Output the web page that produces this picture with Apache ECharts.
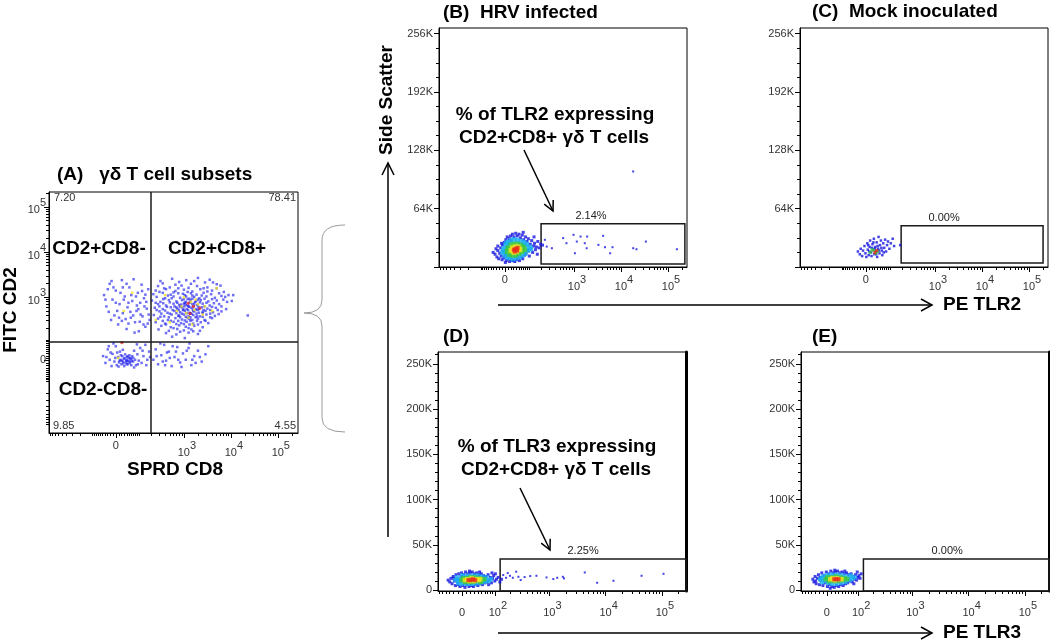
<!DOCTYPE html>
<html>
<head>
<meta charset="utf-8">
<script src="https://cdn.jsdelivr.net/npm/echarts@6.0.0/dist/echarts.min.js"></script>
<style>
  html, body { margin: 0; padding: 0; background: #fff; }
  #chart { width: 1050px; height: 643px; }
</style>
</head>
<body>
<div id="chart"></div>
<script>
// x values of the fluorescence channels are in display (logicle) units:
// 10^3 sits at 3, 10^4 at 4, 10^5 at 5. Side scatter is in K.

// (A) gamma delta T cell subsets: [SPRD CD8, FITC CD2]
var aBlue = [
  [2.75,3.41],[3.05,3.38],[3.30,3.43],[3.55,3.39],
  [2.55,3.31],[2.90,3.34],[3.15,3.30],[3.45,3.33],[3.70,3.29],
  [2.45,3.25],[2.70,3.22],[2.95,3.26],[3.10,3.21],[3.28,3.25],[3.50,3.22],[3.78,3.26],
  [2.40,3.15],[2.62,3.18],[2.82,3.14],[3.00,3.17],[3.18,3.13],[3.35,3.18],[3.60,3.15],[3.85,3.12],
  [2.35,3.07],[2.55,3.10],[2.72,3.06],[2.88,3.09],[3.02,3.05],[3.15,3.09],[3.27,3.06],[3.42,3.10],[3.58,3.07],[3.75,3.09],[3.95,3.05],
  [2.42,3.01],[2.60,2.98],[2.78,3.02],[2.92,2.99],[3.05,3.02],[3.12,2.97],[3.22,3.01],[3.33,2.98],[3.48,3.02],[3.66,2.99],[3.88,3.01],
  [2.32,2.93],[2.50,2.90],[2.68,2.94],[2.84,2.91],[2.96,2.94],[3.04,2.90],[3.14,2.93],[3.24,2.90],[3.36,2.94],[3.52,2.91],[3.70,2.93],[3.92,2.90],
  [2.45,2.85],[2.62,2.82],[2.78,2.86],[2.90,2.83],[3.00,2.86],[3.08,2.82],[3.18,2.85],[3.28,2.83],[3.40,2.86],[3.55,2.82],[3.75,2.85],
  [2.38,2.77],[2.55,2.74],[2.72,2.78],[2.86,2.75],[2.96,2.78],[3.06,2.74],[3.16,2.77],[3.26,2.74],[3.38,2.78],[3.50,2.75],[3.68,2.77],[3.90,2.74],
  [2.48,2.69],[2.65,2.66],[2.80,2.70],[2.92,2.67],[3.02,2.70],[3.12,2.66],[3.22,2.69],[3.32,2.66],[3.46,2.70],[3.62,2.67],[3.80,2.69],
  [2.36,2.61],[2.58,2.58],[2.74,2.62],[2.88,2.59],[3.00,2.62],[3.10,2.58],[3.20,2.61],[3.34,2.58],[3.48,2.62],[3.66,2.59],
  [2.45,2.53],[2.66,2.50],[2.82,2.54],[2.96,2.51],[3.08,2.54],[3.18,2.50],[3.30,2.53],[3.44,2.50],[3.60,2.54],
  [2.40,2.45],[2.60,2.42],[2.78,2.46],[2.94,2.43],[3.06,2.46],[3.20,2.42],[3.36,2.45],[3.52,2.43],
  [2.52,2.37],[2.72,2.34],[2.90,2.38],[3.04,2.35],[3.22,2.37],[3.40,2.34],
  [2.46,2.29],[2.68,2.26],[2.86,2.30],[3.00,2.27],[3.16,2.29],[3.34,2.26],
  [2.62,2.21],[2.84,2.18],[3.10,2.22],[3.30,2.19],[2.75,2.13],[3.02,2.10],
  [2.98,2.72],[3.10,2.80],[3.20,2.70],[3.02,2.88],[3.14,2.64],[3.26,2.92],[2.90,2.60],[3.32,2.74],
  [3.08,2.96],[2.84,2.78],[3.18,3.04],[3.40,2.68],[2.94,2.84],[3.28,2.58],[3.12,2.52],
  [2.50,3.36],[2.82,3.28],[3.22,3.36],[3.62,3.33],[2.58,3.20],[2.88,3.20],[3.42,3.20],[3.70,3.20],
  [2.48,3.12],[2.78,3.11],[3.08,3.12],[3.50,3.13],[3.80,3.03],[2.66,3.04],[2.98,3.08],[3.38,3.04],
  [2.56,2.96],[2.74,2.98],[3.00,2.96],[3.18,2.97],[3.30,2.95],[3.44,2.97],[3.60,2.96],[3.84,2.95],
  [2.40,2.88],[2.56,2.87],[2.70,2.89],[2.86,2.88],[3.04,2.84],[3.12,2.88],[3.22,2.86],[3.34,2.89],[3.48,2.88],[3.64,2.87],
  [2.48,2.80],[2.64,2.79],[2.80,2.80],[2.92,2.79],[3.01,2.80],[3.11,2.79],[3.21,2.80],[3.31,2.79],[3.44,2.80],[3.60,2.79],[3.80,2.80],
  [2.42,2.72],[2.60,2.71],[2.76,2.72],[2.89,2.72],[2.99,2.73],[3.09,2.72],[3.19,2.73],[3.29,2.72],[3.42,2.72],[3.56,2.72],[3.72,2.72],
  [2.52,2.64],[2.70,2.64],[2.84,2.65],[2.96,2.64],[3.06,2.65],[3.16,2.64],[3.27,2.64],[3.40,2.65],[3.56,2.64],[3.74,2.63],
  [2.50,2.57],[2.68,2.56],[2.92,2.56],[3.04,2.57],[3.14,2.56],[3.25,2.56],[3.40,2.57],[3.56,2.56],
  [2.55,2.48],[2.72,2.48],[2.88,2.48],[3.02,2.49],[3.14,2.48],[3.28,2.48],[3.46,2.48],
  [2.62,2.40],[2.84,2.41],[3.00,2.41],[3.12,2.40],[3.30,2.40],[2.78,2.32],[3.10,2.32],[2.92,2.24],[3.20,2.25],
  [4.36,2.60],[4.02,2.92],[4.05,3.05],
  // upper left
  [1.30,3.05],[1.35,2.80],[1.42,3.30],[1.48,2.95],[1.52,2.60],[1.55,3.15],[1.60,2.40],[1.63,2.85],
  [1.68,3.38],[1.70,2.65],[1.74,3.02],[1.78,2.30],[1.80,2.78],[1.84,3.22],[1.87,2.55],[1.90,2.92],
  [1.93,3.40],[1.96,2.45],[1.99,2.70],[2.02,3.10],[2.04,2.25],[2.07,2.88],[2.10,3.28],[2.12,2.58],
  [2.15,2.98],[2.18,2.35],[2.21,2.75],[2.24,3.18],[2.27,2.50],[1.45,2.50],[1.65,3.10],[1.88,3.05],
  [2.08,2.62],[1.58,2.70],[1.76,2.52],[1.95,2.22],[2.20,2.90],[1.38,3.18],[1.82,2.42],[2.00,2.82],
  [1.72,2.95],[2.14,2.40],
  [1.40,2.68],[1.50,3.22],[1.62,2.55],[1.78,3.30],[1.86,2.68],[1.98,3.02],[2.06,2.46],[2.16,2.80],
  [2.25,2.62],[1.55,2.88],[1.68,2.48],[1.92,2.60],[2.11,3.14],[2.23,2.42],[1.33,2.95],[1.82,2.88],
  [2.03,2.74],[2.18,3.06],[1.70,3.22],[1.46,3.36],
  // lower left
  [1.28,1.70],[1.33,1.55],[1.38,1.85],[1.42,1.62],[1.46,1.48],[1.48,1.75],[1.52,1.58],[1.55,1.92],
  [1.57,1.50],[1.60,1.68],[1.62,1.56],[1.64,1.80],[1.65,1.62],[1.67,1.52],[1.69,1.70],[1.70,1.58],
  [1.72,1.64],[1.73,1.48],[1.75,1.74],[1.76,1.56],[1.78,1.62],[1.79,1.68],[1.81,1.52],[1.82,1.60],
  [1.84,1.72],[1.85,1.55],[1.87,1.64],[1.88,1.50],[1.90,1.70],[1.92,1.58],[1.94,1.82],[1.96,1.62],
  [1.98,1.50],[2.01,1.74],[2.04,1.60],[2.07,1.88],[2.10,1.55],[2.14,1.70],[2.18,1.95],[2.22,1.62],
  [2.26,1.80],[1.66,1.72],[1.74,1.66],[1.80,1.58],[1.86,1.66],[1.71,1.54],[1.77,1.60],[1.83,1.66],
  [1.63,1.60],[1.89,1.60],[1.50,1.98],[1.94,1.45],[1.58,1.78],[2.00,1.96],
  [1.35,1.68],[1.44,1.78],[1.54,1.66],[1.61,1.47],[1.68,1.60],[1.80,1.70],[1.86,1.58],[1.92,1.66],
  [2.02,1.52],[2.12,1.82],[2.20,1.50],[2.28,1.68],[1.40,1.92],[1.70,1.84],[1.78,1.52],
  // lower right
  [2.35,1.62],[2.40,1.85],[2.45,1.52],[2.52,1.72],[2.58,1.95],[2.62,1.60],[2.68,1.80],[2.74,1.48],
  [2.80,1.68],[2.86,1.90],[2.92,1.56],[2.98,1.76],[3.04,1.62],[3.10,1.88],[3.16,1.50],[3.22,1.70],
  [3.30,1.82],[3.38,1.58],[3.46,1.74],[3.52,1.92],[2.50,1.98],[2.70,1.66],[2.95,1.46],[3.12,1.98],
  [3.25,1.55],[2.55,1.58],[2.83,1.80],
  [2.42,1.70],[2.64,1.78],[2.88,1.62],[3.06,1.82],[3.18,1.62],[3.34,1.68],[2.60,1.50],[2.76,1.92]
];
var aYellow = [
  [2.95,2.80],[3.05,2.65],[3.15,2.90],[3.22,2.72],[3.30,2.85],[3.10,2.55],[2.85,2.70],[3.40,2.62],
  [3.00,3.00],[3.25,2.95],[2.70,2.45],[3.45,2.80],[1.90,3.10],[1.72,2.70],[3.60,2.70],[2.40,2.50],
  [3.18,2.40],[2.60,3.05],[3.70,3.20],[1.60,1.66]
];
var aRed = [[3.09,2.87],[3.13,2.64],[3.34,2.76],[1.68,2.00],[3.20,2.80]];
var quadLines = [2.30, 2.02];
var quadPct = ['7.20', '78.41', '9.85', '4.55'];

// (B) HRV infected, TLR2: [PE TLR2, SSC (K)]
var bBlue = [
  [1.32,14],[1.36,11],[1.38,18],[1.40,9],[1.42,15],[1.44,21],[1.45,12],[1.47,8],[1.48,24],[1.50,17],
  [1.51,10],[1.52,27],[1.53,13],[1.55,30],[1.56,7],[1.57,22],[1.58,33],[1.60,9],[1.61,26],[1.62,31],
  [1.63,6],[1.65,34],[1.66,29],[1.67,8],[1.69,36],[1.70,7],[1.72,33],[1.74,6],[1.76,37],[1.78,8],
  [1.79,34],[1.81,10],[1.83,36],[1.84,7],[1.86,32],[1.88,11],[1.90,35],[1.91,9],[1.93,30],[1.95,13],
  [1.97,33],[1.98,15],[2.00,28],[2.02,18],[2.03,31],[2.05,12],[2.07,25],[2.08,20],[2.10,29],[2.12,16],
  [2.14,23],[2.16,26],[2.18,19],[2.20,22],[2.23,28],[2.26,21],[2.29,25],[1.28,16],[1.34,20],[2.33,24],
  [1.46,26],[1.54,5],[1.92,38],[2.15,33],[1.38,23],[2.22,14]
];
var bCyan = [
  [1.48,16],[1.50,20],[1.53,13],[1.55,24],[1.58,11],[1.60,27],[1.63,10],[1.66,29],[1.70,9],[1.73,30],
  [1.77,10],[1.80,29],[1.84,11],[1.87,28],[1.90,13],[1.93,27],[1.96,15],[1.99,25],[2.02,18],[2.05,22],
  [1.52,18],[1.57,26],[1.62,12],[1.95,24],[2.08,20]
];
var bGreen = [
  [1.58,17],[1.60,21],[1.63,14],[1.66,24],[1.69,13],[1.72,25],[1.76,13],[1.79,25],[1.83,15],[1.86,24],
  [1.89,17],[1.92,22],[1.95,19],[1.62,19],[1.90,20]
];
var bYellow = [[1.66,18],[1.69,21],[1.72,16],[1.75,22],[1.78,17],[1.81,22],[1.85,19],[1.70,19],[1.83,20]];
var bRed = [[1.72,19],[1.76,20],[1.79,18],[1.74,17],[1.80,21]];
var bGated = [
  [2.38,29.8],[2.42,22.4],[2.53,20.6],[2.77,31.7],[2.84,26.1],[2.99,35.3],[3.02,15.1],[3.06,27.9],
  [3.14,33.4],[3.23,26.1],[3.27,20.6],[3.28,33.4],[3.52,24.3],[3.62,34.2],[3.66,21.7],[3.77,15.1],
  [3.82,21.7],[4.26,20.6],[4.33,19.5],[4.53,27.9],[5.19,19.5],[4.26,104.8]
];

// (C) Mock inoculated, TLR2
var cBlue = [
  [1.36,17],[1.40,14],[1.42,20],[1.45,12],[1.47,18],[1.50,23],[1.52,15],[1.54,11],[1.56,26],[1.57,19],
  [1.59,13],[1.61,22],[1.62,29],[1.64,16],[1.65,12],[1.67,25],[1.68,19],[1.70,31],[1.71,14],[1.73,22],
  [1.74,17],[1.76,27],[1.77,11],[1.79,20],[1.80,33],[1.82,15],[1.83,24],[1.85,29],[1.87,18],[1.88,13],
  [1.90,26],[1.92,21],[1.94,30],[1.96,17],[1.98,24],[2.00,28],[2.03,20],[2.06,26],[2.10,31],[2.13,23],
  [1.69,27],[1.72,20],[1.78,23],[1.81,18],[1.60,17],[1.66,21],[1.58,24],[1.75,14],[1.86,21],[1.91,16],
  [2.26,24]
];
var cGreen = [[1.62,16],[1.70,18],[1.74,15],[1.66,19],[1.78,17]];
var cRed = [[1.72,16],[1.76,18]];

// (D) HRV infected, TLR3
var dBlue = [
  [1.20,11],[1.23,9],[1.25,13],[1.27,7],[1.29,15],[1.31,10],[1.33,5],[1.34,17],[1.36,12],[1.38,6],
  [1.39,18],[1.41,4],[1.43,15],[1.44,19],[1.46,5],[1.48,17],[1.50,3],[1.51,20],[1.53,6],[1.55,18],
  [1.57,4],[1.59,19],[1.61,5],[1.63,20],[1.65,4],[1.67,18],[1.69,6],[1.71,19],[1.73,5],[1.75,17],
  [1.77,7],[1.79,18],[1.81,6],[1.83,16],[1.85,8],[1.87,15],[1.89,9],[1.91,17],[1.93,11],[1.95,14],
  [1.97,8],[1.99,13],[2.01,16],[2.03,10],[2.06,12],[2.09,14],[2.12,9],[2.15,12],[1.45,12],[1.30,13],
  [1.92,6],[2.04,18],[1.58,21],[1.76,20],[1.37,9],[1.98,19]
];
var dCyan = [
  [1.33,11],[1.36,14],[1.38,8],[1.41,12],[1.43,7],[1.45,16],[1.48,8],[1.50,15],[1.53,7],[1.56,16],
  [1.60,7],[1.64,16],[1.68,7],[1.72,16],[1.76,8],[1.80,15],[1.84,9],[1.88,14],[1.92,10],[1.96,12],
  [1.40,10],[1.86,11]
];
var dGreen = [
  [1.44,11],[1.47,13],[1.50,9],[1.53,13],[1.57,9],[1.60,14],[1.64,9],[1.68,14],[1.72,10],[1.76,13],
  [1.80,11],[1.84,12],[1.48,11],[1.78,9]
];
var dYellow = [[1.50,11],[1.54,12],[1.58,10],[1.62,13],[1.66,10],[1.70,12],[1.74,11],[1.77,12]];
var dRed = [[1.56,11],[1.60,11],[1.64,12],[1.68,11]];
var dGated = [
  [2.18,16.6],[2.23,13.6],[2.26,18.8],[2.30,15.8],[2.35,13.6],[2.41,20.3],[2.45,14.7],[2.49,11.1],
  [2.56,14.4],[2.66,15.5],[2.77,15.8],[2.95,14.0],[3.07,12.2],[3.14,13.6],[3.24,14.7],[3.26,12.9],
  [3.63,19.5],[3.85,8.1],[4.14,10.3],[4.64,15.8],[5.03,18.0]
];

// (E) Mock inoculated, TLR3
var eBlue = [
  [1.23,12],[1.25,9],[1.27,15],[1.29,7],[1.31,13],[1.33,17],[1.35,6],[1.37,11],[1.39,19],[1.41,5],
  [1.43,16],[1.45,8],[1.47,20],[1.49,4],[1.51,18],[1.53,6],[1.55,21],[1.57,4],[1.59,19],[1.61,3],
  [1.63,20],[1.65,5],[1.67,21],[1.69,4],[1.71,19],[1.73,6],[1.75,20],[1.77,5],[1.79,18],[1.81,7],
  [1.83,19],[1.85,8],[1.87,17],[1.89,10],[1.91,18],[1.93,9],[1.95,15],[1.97,12],[1.99,17],[2.01,11],
  [2.03,14],[2.05,16],[2.07,13],[2.09,18],[1.28,10],[1.46,14],[1.62,22],[1.80,21],[1.96,7],[2.02,20],
  [1.36,14],[1.54,2]
];
var eCyan = [
  [1.36,12],[1.39,9],[1.41,15],[1.44,10],[1.47,16],[1.50,8],[1.53,17],[1.57,7],[1.61,17],[1.65,7],
  [1.69,17],[1.73,8],[1.77,16],[1.81,9],[1.85,15],[1.89,11],[1.93,13],[1.97,14],[1.40,13],[1.91,16]
];
var eGreen = [
  [1.46,12],[1.49,14],[1.52,10],[1.56,14],[1.60,10],[1.64,15],[1.68,10],[1.72,14],[1.76,11],[1.80,13],
  [1.84,12],[1.53,12]
];
var eYellow = [[1.54,12],[1.58,13],[1.62,11],[1.66,13],[1.70,12],[1.74,12],[1.60,12]];
var eRed = [[1.61,12],[1.65,12],[1.69,12]];

// gates [[x1, y1], [x2, y2]] and their percentages
var gateB = [[2.30, 3.3], [5.36, 47.4]];
var gateC = [[2.28, 4.4], [5.30, 45.2]];
var gateD = [[2.125, -1], [5.43, 34.3]];
var gateE = [[2.13, -1], [5.43, 34.3]];
var gateLabels = ['2.14%', '0.00%', '2.25%', '0.00%'];

// tick labels
var decadesTLR2 = [0, 1e3, 1e4, 1e5];
var decadesTLR3 = [0, 1e2, 1e3, 1e4, 1e5];
var sscTicksTLR2 = [64, 128, 192, 256];
var sscTicksTLR3 = [0, 50, 100, 150, 200, 250];

var FONT = '"Liberation Sans", Arial, sans-serif';
var BLUE = '#1414e0', CYAN = '#1cb0f0', GREEN = '#3cc83c', YELLOW = '#f2e21e', RED = '#e8281e';

function toU(v, u0) {
  var c = Math.pow(10, u0);
  return u0 + Math.asinh(v / (2 * c)) / Math.LN10;
}

function minorRaw() {
  var out = [];
  for (var n = 1; n <= 5; n++) {
    for (var k = 1; k <= 9; k++) {
      out.push(k * Math.pow(10, n), -k * Math.pow(10, n));
    }
  }
  return out;
}

function richFor(flat, isY) {
  return {
    z: { fontSize: 11, fontFamily: FONT, color: '#333', padding: flat ? [7, 0, 0, 0] : (isY ? [3, 0, 4, 0] : [0, 0, 7, 0]) },
    b: { fontSize: 11, fontFamily: FONT, color: '#333', padding: [7, 0, 0, isY ? 0 : 6] },
    s: { fontSize: 11, fontFamily: FONT, color: '#333', padding: [0, 0, 8, 0] }
  };
}

function logicleAxes(grid, min, max, u0, decades, isY, flat, margin) {
  var major = decades.map(function (v) { return toU(v, u0); });
  var names = decades.map(function (v) {
    return v === 0 ? '{z|0}' : '{b|10}{s|' + Math.round(Math.log10(v)) + '}';
  });
  var minor = minorRaw().map(function (v) { return toU(v, u0); })
    .filter(function (u) { return u > min && u < max; });
  var pos = isY ? 'left' : 'bottom';
  return [{
    type: 'value', gridIndex: grid, position: pos, min: min, max: max,
    splitLine: { show: false },
    axisLine: { show: true, onZero: false, lineStyle: { color: '#000', width: 1 } },
    axisTick: { show: true, customValues: major, length: 5, lineStyle: { color: '#000' } },
    axisLabel: {
      customValues: major, margin: margin, rich: richFor(flat, isY),
      formatter: function (v) {
        var best = 0;
        for (var i = 1; i < major.length; i++) {
          if (Math.abs(major[i] - v) < Math.abs(major[best] - v)) best = i;
        }
        return names[best];
      }
    }
  }, {
    type: 'value', gridIndex: grid, position: pos, min: min, max: max,
    splitLine: { show: false },
    axisLine: { show: false, onZero: false },
    axisTick: { show: true, customValues: minor, length: 3, lineStyle: { color: '#000' } },
    axisLabel: { show: false }
  }];
}

function sscAxes(grid, max, labels, step, minorStep, min) {
  var majors = [], minors = [];
  for (var v = 0; v <= max; v += minorStep) {
    if (v % step === 0) majors.push(v); else minors.push(v);
  }
  return [{
    type: 'value', gridIndex: grid, position: 'left', min: min, max: max,
    splitLine: { show: false },
    axisLine: { show: true, onZero: false, lineStyle: { color: '#000' } },
    axisTick: { show: true, customValues: majors, length: 5, lineStyle: { color: '#000' } },
    axisLabel: {
      customValues: labels, margin: 6, fontSize: 11, fontFamily: FONT, color: '#333',
      formatter: function (v) { return v === 0 ? '0' : v + 'K'; }
    }
  }, {
    type: 'value', gridIndex: grid, position: 'left', min: min, max: max,
    splitLine: { show: false },
    axisLine: { show: false, onZero: false },
    axisTick: { show: true, customValues: minors, length: 3, lineStyle: { color: '#000' } },
    axisLabel: { show: false }
  }];
}

function rightEdge(grid, min, max) {
  return {
    type: 'value', gridIndex: grid, position: 'right', min: min, max: max,
    splitLine: { show: false },
    axisLine: { show: true, onZero: false, lineStyle: { color: '#000', width: 3 } },
    axisTick: { show: false }, axisLabel: { show: false }
  };
}

function dots(axis, data, color, size, extra) {
  var s = {
    type: 'scatter', xAxisIndex: axis, yAxisIndex: axis, data: data,
    symbol: 'rect', symbolSize: size, itemStyle: { color: color },
    silent: true, animation: false
  };
  return Object.assign(s, extra || {});
}

function gate(area, label, dx) {
  return {
    markArea: {
      silent: true,
      itemStyle: { color: 'rgba(0,0,0,0)', borderColor: '#1a1a1a', borderWidth: 1.5 },
      label: { show: true, position: 'top', distance: 2, offset: [dx, 0], formatter: label,
        fontSize: 11, fontFamily: FONT, color: '#222' },
      data: [[{ coord: area[0] }, { coord: area[1] }]]
    }
  };
}

function txt(text, x, y, align, size, weight, rot, color) {
  return {
    type: 'text', x: x, y: y, rotation: rot || 0, silent: true,
    style: {
      text: text, x: 0, y: 0, fill: color || '#000',
      font: (weight || 'bold') + ' ' + (size || 19) + 'px ' + FONT,
      align: align || 'left', textAlign: align || 'left',
      verticalAlign: 'middle', textVerticalAlign: 'middle'
    }
  };
}

function seg(x1, y1, x2, y2, w, color) {
  return { type: 'line', silent: true, shape: { x1: x1, y1: y1, x2: x2, y2: y2 },
    style: { stroke: color || '#000', lineWidth: w || 1.5 } };
}

function chevron(pts, w) {
  return { type: 'polyline', silent: true, shape: { points: pts },
    style: { stroke: '#000', lineWidth: w || 1.5, fill: null } };
}

function curve(x1, y1, cx, cy, x2, y2) {
  return { type: 'bezierCurve', silent: true,
    shape: { x1: x1, y1: y1, x2: x2, y2: y2, cpx1: cx, cpy1: cy },
    style: { stroke: '#9a9a9a', lineWidth: 1, fill: null } };
}

var xA = logicleAxes(0, 0.128, 5.43, 1.553, decadesTLR2, false, false, 7);
var yA = logicleAxes(0, 0, 5.33, 1.6, decadesTLR2, true, false, 3);
var xB = logicleAxes(1, 0.128, 5.405, 1.53, decadesTLR2, false, false, 7);
var yB = sscAxes(1, 262.144, sscTicksTLR2, 64, 16, 0);
var xC = logicleAxes(2, 0.128, 5.405, 1.53, decadesTLR2, false, false, 7);
var yC = sscAxes(2, 262.144, sscTicksTLR2, 64, 16, 0);
var xD = logicleAxes(3, 1.02, 5.43, 1.45, decadesTLR3, false, true, 9);
var yD = sscAxes(3, 263, sscTicksTLR3, 50, 10, -1);
var xE = logicleAxes(4, 1.02, 5.43, 1.48, decadesTLR3, false, true, 9);
var yE = sscAxes(4, 263, sscTicksTLR3, 50, 10, -1);

var gridStyle = { show: true, borderColor: '#000', borderWidth: 1, backgroundColor: 'rgba(0,0,0,0)' };

var option = {
  backgroundColor: '#fff',
  animation: false,
  grid: [
    Object.assign({ left: 49, top: 192, width: 249, height: 241 }, gridStyle),
    Object.assign({ left: 439, top: 28, width: 248, height: 239 }, gridStyle),
    Object.assign({ left: 800, top: 28, width: 248, height: 239 }, gridStyle),
    Object.assign({ left: 438, top: 352, width: 248, height: 239 }, gridStyle),
    Object.assign({ left: 801, top: 352, width: 248, height: 239 }, gridStyle)
  ],
  xAxis: [].concat(xA, xB, xC, xD, xE),
  yAxis: [].concat(yA, yB, yC, yD, yE, [rightEdge(3, -1, 263), rightEdge(4, -1, 263)]),
  series: [
    dots(0, aBlue, 'rgba(24,24,235,0.78)', 2.5, {
      markLine: {
        silent: true, symbol: 'none', label: { show: false }, animation: false,
        lineStyle: { color: '#1a1a1a', width: 1.5, type: 'solid' },
        data: [{ xAxis: quadLines[0] }, { yAxis: quadLines[1] }]
      }
    }),
    dots(0, aYellow, YELLOW, 2.5),
    dots(0, aRed, RED, 2.8),

    dots(2, bBlue, BLUE, 3),
    dots(2, bCyan, CYAN, 5),
    dots(2, bGreen, GREEN, 5),
    dots(2, bYellow, YELLOW, 5),
    dots(2, bRed, RED, 4),
    dots(2, bGated, BLUE, 2, gate(gateB, gateLabels[0], -22)),

    dots(4, cBlue, BLUE, 2.5, gate(gateC, gateLabels[1], -28)),
    dots(4, cGreen, GREEN, 3),
    dots(4, cRed, RED, 3),

    dots(6, dBlue, BLUE, 3),
    dots(6, dCyan, CYAN, 4.5),
    dots(6, dGreen, GREEN, 4.5),
    dots(6, dYellow, YELLOW, 4.5),
    dots(6, dRed, RED, 4),
    dots(6, dGated, BLUE, 2, gate(gateD, gateLabels[2], -10)),

    dots(8, eBlue, BLUE, 3, gate(gateE, gateLabels[3], -9)),
    dots(8, eCyan, CYAN, 4.5),
    dots(8, eGreen, GREEN, 4.5),
    dots(8, eYellow, YELLOW, 4.5),
    dots(8, eRed, RED, 4)
  ],
  graphic: [
    // panel titles
    txt('(A)   γδ T cell subsets', 57, 175),
    txt('(B)  HRV infected', 443, 13),
    txt('(C)  Mock inoculated', 812, 12),
    txt('(D)', 443, 337),
    txt('(E)', 812, 337),
    // panel A labels
    txt('CD2+CD8-', 99, 249, 'center'),
    txt('CD2+CD8+', 217, 249, 'center'),
    txt('CD2-CD8-', 103, 390, 'center'),
    txt(quadPct[0], 54, 198, 'left', 11, 'normal', 0, '#333'),
    txt(quadPct[1], 296, 198, 'right', 11, 'normal', 0, '#333'),
    txt(quadPct[2], 53, 426, 'left', 11, 'normal', 0, '#333'),
    txt(quadPct[3], 296, 426, 'right', 11, 'normal', 0, '#333'),
    txt('FITC CD2', 11, 310, 'center', 19, 'bold', Math.PI / 2),
    txt('SPRD CD8', 175, 470, 'center'),
    // bracket linking A to the TLR panels
    curve(345, 225, 322, 225, 322, 240),
    seg(322, 240, 322, 300, 1, '#9a9a9a'),
    curve(322, 300, 322, 313, 304, 313),
    curve(304, 313, 322, 313, 322, 326),
    seg(322, 326, 322, 418, 1, '#9a9a9a'),
    curve(322, 418, 322, 432, 345, 432),
    // shared axis names and arrows
    txt('Side Scatter', 387, 100, 'center', 19, 'bold', Math.PI / 2),
    seg(388, 537, 388, 163, 1.5),
    chevron([[382, 175], [388, 163], [394, 175]]),
    seg(498, 305, 932, 305, 1.5),
    chevron([[921, 299], [932, 305], [921, 311]]),
    txt('PE TLR2', 943, 305),
    seg(498, 633, 932, 633, 1.5),
    chevron([[921, 627], [932, 633], [921, 639]]),
    txt('PE TLR3', 943, 633),
    // annotations
    txt('% of TLR2 expressing', 555, 115, 'center'),
    txt('CD2+CD8+ γδ T cells', 554, 138, 'center'),
    seg(524, 150, 553, 211, 1.5),
    chevron([[544.2, 204.2], [553, 211], [553.2, 199.9]]),
    txt('% of TLR3 expressing', 557, 447, 'center'),
    txt('CD2+CD8+ γδ T cells', 556, 470, 'center'),
    seg(520, 488, 550, 550, 1.5),
    chevron([[541.2, 543.2], [550, 550], [550.2, 538.8]])
  ]
};

var myChart = echarts.init(document.getElementById('chart'));
myChart.setOption(option);
</script>
</body>
</html>
